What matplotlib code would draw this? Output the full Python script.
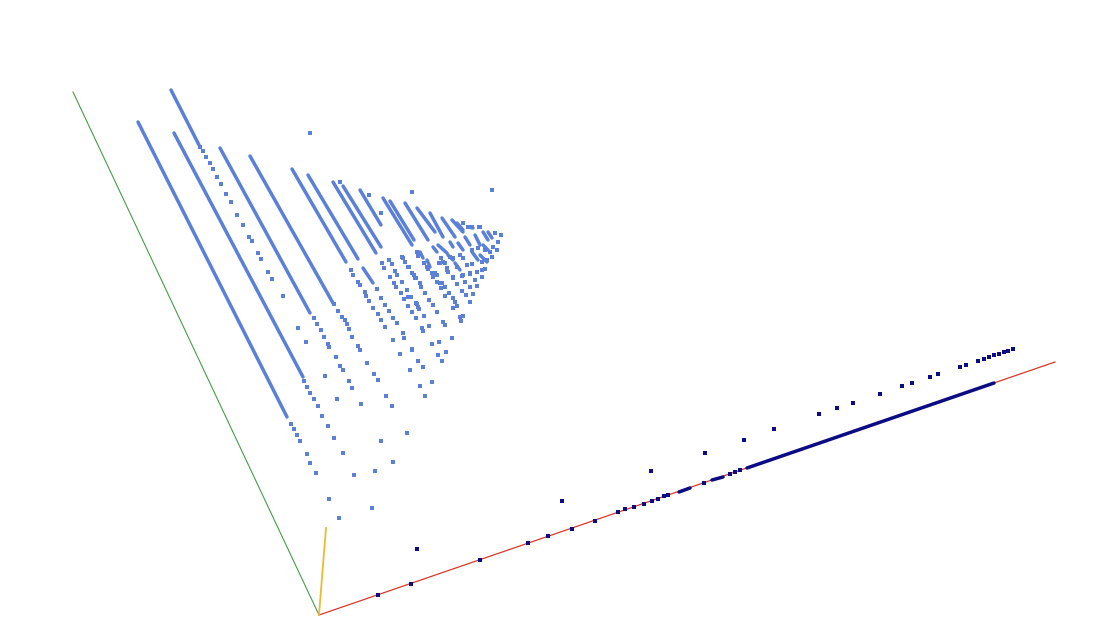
import matplotlib
matplotlib.use("Agg")
import matplotlib.pyplot as plt

# Everything, in image pixels (x to the right, y downwards)
W, H = 1113, 643

# the three axes, all start at the origin
origin = (319, 615)
axis_x_end = (1055, 362)
axis_y_end = (73, 92)
axis_z_end = (326, 528)

# dense runs of points (start and end of each run)
light_runs = [
    ((138, 122), (287, 417)), ((174, 133), (303, 377)), ((171, 90), (199, 145)),
    ((220, 148), (310, 313)), ((250, 156), (333, 303)), ((292, 169), (346, 262)),
    ((308, 175), (358, 259)), ((333, 182), (376, 253)), ((343, 186), (381, 247)),
    ((360, 190), (381, 225)), ((383, 198), (412, 245)), ((390, 201), (414, 240)),
    ((405, 203), (428, 240)), ((417, 208), (435, 232)), ((430, 213), (443, 237)),
    ((442, 218), (455, 237)), ((452, 220), (463, 232)), ((363, 268), (373, 283)),
    ((438, 245), (447, 253)), ((465, 237), (470, 245)), ((475, 235), (480, 245)),
    ((483, 232), (488, 240)), ((488, 232), (492, 238)), ((450, 242), (453, 247)),
    ((458, 243), (463, 250)), ((420, 252), (423, 258)), ((427, 260), (430, 267)),
    ((433, 247), (437, 252)), ((448, 255), (453, 260)), ((455, 263), (460, 270)),
    ((472, 252), (478, 260)), ((480, 255), (487, 262)), ((483, 245), (488, 250)),
    ((468, 227), (473, 228)), ((457, 223), (463, 230)),
]
dark_runs = [
    ((679, 492), (690, 488)), ((712, 480), (723, 477)), ((747, 468), (994, 383)),
]

# single points, light blue cloud
light_x = [291, 294, 297, 300, 307, 310, 316, 329, 339,
           304, 307, 310, 314, 318, 322, 328, 334, 343, 354, 372,
           200, 203, 206, 210, 213, 217, 221, 226, 231, 237, 243, 249, 252, 258, 261, 268, 272, 283, 298, 306, 325, 337,
           314, 317, 321, 324, 328, 329, 336, 340, 343, 349, 352, 361, 381, 393, 375,
           340, 369, 381, 412, 492, 310,
           334, 338, 342, 345, 347, 349, 352,
           358, 360, 367, 374, 378, 386, 392, 407, 400, 412, 418, 423, 410, 420, 425, 432, 438, 442, 446,
           351, 353, 358, 360, 365, 366, 369, 373, 378, 381, 385, 393, 403, 404, 412,
           377, 381, 385, 389, 393, 397,
           382, 384, 389, 392, 395, 397, 402, 407, 411, 417, 419, 424, 422, 423, 429, 432, 439, 452,
           390, 394, 396, 401, 404, 408, 412, 416,
           402, 405, 409, 414, 416, 421, 425, 429, 433, 437, 443, 445, 408, 416, 418,
           417, 418, 424, 427, 428, 432, 437, 433, 437, 442, 441, 445, 445, 449, 453, 455, 457, 453, 460, 463, 461,
           439, 441, 445, 447, 448, 453, 457, 462, 466, 470, 473, 470, 477, 462, 465, 470, 475, 482, 477, 485, 472, 457, 463, 467,
           492, 487, 482, 497, 490, 485, 478, 472, 460, 450, 453,
           495, 501, 498, 493, 463, 472, 479, 468,
           403, 408, 412, 415, 420, 435, 432, 440, 443, 440, 447, 463, 470, 482, 453, 480]
light_y = [424, 429, 435, 441, 454, 463, 473, 499, 518,
           381, 387, 393, 399, 406, 416, 426, 438, 453, 475, 508,
           147, 151, 157, 163, 169, 177, 184, 194, 202, 215, 225, 237, 241, 253, 259, 272, 279, 296, 328, 342, 376, 399,
           318, 324, 330, 337, 344, 347, 357, 366, 370, 381, 388, 404, 441, 462, 471,
           182, 195, 213, 192, 190, 133,
           304, 311, 317, 320, 324, 329, 337,
           346, 350, 363, 374, 380, 396, 406, 433, 354, 350, 361, 367, 370, 386, 396, 382, 355, 361, 352,
           270, 275, 282, 285, 292, 296, 301, 308, 314, 320, 327, 340, 333, 338, 349,
           289, 298, 305, 311, 318, 323,
           263, 268, 260, 264, 271, 275, 282, 290, 297, 304, 309, 316, 328, 331, 326, 344, 342, 338,
           277, 283, 287, 293, 299, 306, 312, 318,
           257, 262, 267, 275, 278, 287, 293, 300, 305, 312, 322, 325, 297, 303, 307,
           252, 256, 263, 267, 269, 273, 275, 277, 282, 283, 288, 287, 296, 293, 298, 302, 306, 308, 317, 316, 321,
           263, 258, 263, 268, 272, 277, 284, 291, 295, 302, 294, 287, 286, 276, 282, 274, 280, 277, 272, 269, 264, 267, 258, 265,
           257, 260, 262, 250, 252, 250, 248, 250, 255, 257, 258,
           233, 235, 242, 247, 223, 227, 227, 227,
           258, 267, 273, 278, 283, 273, 273, 263, 262, 283, 270, 275, 273, 270, 278, 227]

# single points, dark blue, on the red axis and above it
dark_x = [378, 411, 480, 528, 548, 572, 595, 618, 625, 634, 644, 652, 658, 664, 668, 704, 730, 735, 740,
          417, 562, 651, 705, 744, 774, 819, 837, 853, 880, 902, 912, 930, 938, 960, 966,
          978, 984, 989, 994, 999, 1004, 1008, 1013]
dark_y = [595, 584, 560, 543, 536, 529, 521, 512, 509, 507, 504, 501, 499, 496, 495, 483, 474, 472, 470,
          549, 501, 471, 453, 440, 429, 414, 408, 403, 394, 386, 383, 377, 374, 367, 365,
          361, 359, 357, 355, 354, 352, 351, 349]

light_blue = "#5b80d8"
dark_blue = "#0b0b84"

fig = plt.figure(figsize=(W / 100, H / 100), dpi=100)
ax = fig.add_axes([0, 0, 1, 1])
ax.set_xlim(0, W)
ax.set_ylim(H, 0)
ax.axis("off")

#axes
ax.plot([origin[0], axis_y_end[0]], [origin[1], axis_y_end[1]], color="#4a9a4a", lw=0.8)
ax.plot([origin[0], axis_x_end[0]], [origin[1], axis_x_end[1]], color="#d9382a", lw=0.9)
ax.plot([origin[0], axis_z_end[0]], [origin[1], axis_z_end[1]], color="#e8bd30", lw=1.3)

#dense runs
for a, b in light_runs:
    ax.plot([a[0], b[0]], [a[1], b[1]], color=light_blue, lw=2.5, solid_capstyle="round")
for a, b in dark_runs:
    ax.plot([a[0], b[0]], [a[1], b[1]], color=dark_blue, lw=2.5, solid_capstyle="round")

#points
ax.scatter(light_x, light_y, s=6, marker="s", color=light_blue, linewidths=0)
ax.scatter(dark_x, dark_y, s=6, marker="s", color=dark_blue, linewidths=0, zorder=3)

fig.savefig("out.png", dpi=100)
